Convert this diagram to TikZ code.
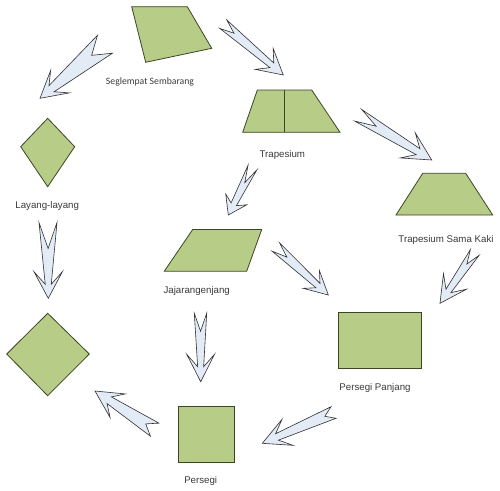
\documentclass[tikz,border=0pt]{standalone}
\usepackage{fontspec}
\setmainfont{Liberation Sans}
\newfontfamily\calib{Carlito}
\usetikzlibrary{calc}
\definecolor{shapefill}{HTML}{B7CC86}
\definecolor{shapeline}{HTML}{3A4626}
\definecolor{arrowfill}{HTML}{E3EBF7}
\definecolor{arrowline}{HTML}{303030}
\definecolor{labeltext}{HTML}{3A3A3A}
% #1 tail, #2 tip, #3 tail half width, #4 notch depth,
% #5 neck half width, #6 neck distance from tip, #7 barb half width, #8 barb distance from tip
\newcommand\notcharrow[8]{%
 \draw[notchedarrow] ($(#1)!#3!90:(#2)$) -- ($(#1)!#4!(#2)$) -- ($(#1)!#3!-90:(#2)$)
 -- ($(#2)!#6!(#1)!#5!90:(#1)$) -- ($(#2)!#8!(#1)!#7!90:(#1)$) -- (#2)
 -- ($(#2)!#8!(#1)!#7!-90:(#1)$) -- ($(#2)!#6!(#1)!#5!-90:(#1)$) -- cycle;}
\begin{document}
\begin{tikzpicture}[x=1pt,y=-1pt,
  figshape/.style={draw=shapeline,fill=shapefill,line width=0.8pt,line join=miter},
  notchedarrow/.style={draw=arrowline,fill=arrowfill,line width=0.6pt,line join=miter},
  lbl/.style={text=labeltext,font=\fontsize{9.7}{11}\selectfont,inner sep=0pt,anchor=base}]
\fill[white] (0,0) rectangle (500,490);
\useasboundingbox (0,0) rectangle (500,490);

% shapes
\draw[figshape] (131.7,6.7) -- (187.3,6.7) -- (211.7,48.3) -- (145.7,62.3) -- cycle;
\draw[figshape] (257.3,90) -- (311.7,90) -- (340,132.3) -- (242.7,132.3) -- cycle;
\draw[figshape] (284.3,90) -- (284.3,132.3);
\draw[figshape] (422.7,173.3) -- (465.7,173.3) -- (492.7,215) -- (396,215) -- cycle;
\draw[figshape] (47.7,118.3) -- (74.7,146.7) -- (47.7,186.7) -- (20.7,146.7) -- cycle;
\draw[figshape] (192.7,229.5) -- (261.7,229.5) -- (246.7,271.2) -- (164.3,271.2) -- cycle;
\draw[figshape] (338.3,312.7) rectangle (421.7,368.3);
\draw[figshape] (178.3,406.7) rectangle (234,462.7);
\draw[figshape] (47.7,313.3) -- (89.3,354) -- (47.7,395.7) -- (6.7,354) -- cycle;

% labels
\node[lbl] (lseg) at (150,84.5) {\calib Seglempat Sembarang};
\node[lbl] (ltrap) at (282.3,157) {Trapesium};
\node[lbl] (ltsk) at (446,242) {Trapesium Sama Kaki};
\node[lbl] (llay) at (47.2,208) {Layang-layang};
\node[lbl] (ljaj) at (196.7,293) {Jajarangenjang};
\node[lbl] (lpp) at (375,390.3) {Persegi Panjang};
\node[lbl] (lper) at (200.7,483) {Persegi};

% arrow end points
\coordinate (a1t) at (105,44.2);   \coordinate (a1h) at (40,98.3);
\coordinate (a2t) at (223.3,24.2); \coordinate (a2h) at (283.3,75);
\coordinate (a3t) at (358.2,115.3);\coordinate (a3h) at (431.7,160);
\coordinate (a4t) at (252.5,167.5);\coordinate (a4h) at (228.3,215);
\coordinate (a5t) at (275.8,247);  \coordinate (a5h) at (328.3,295);
\coordinate (a6t) at (474.7,252.5);\coordinate (a6h) at (440,303.3);
\coordinate (a7t) at (200.5,313.3);\coordinate (a7h) at (200.7,381.7);
\coordinate (a8t) at (333.5,412.5);\coordinate (a8h) at (262.3,443.3);
\coordinate (a9t) at (154.7,429.7);\coordinate (a9h) at (95,391);
\coordinate (a10t) at (48,222.5);  \coordinate (a10h) at (48.3,298.3);

\notcharrow{a1t}{a1h}{11.7pt}{17.4pt}{4pt}{15pt}{14.6pt}{26pt}
\notcharrow{a2t}{a2h}{5.5pt}{14pt}{3pt}{15pt}{13.8pt}{25pt}
\notcharrow{a3t}{a3h}{6.8pt}{21pt}{3.5pt}{16pt}{14.6pt}{28pt}
\notcharrow{a4t}{a4h}{5pt}{17pt}{3pt}{12pt}{11.8pt}{17.5pt}
\notcharrow{a5t}{a5h}{5.6pt}{15pt}{3pt}{14pt}{12pt}{23pt}
\notcharrow{a6t}{a6h}{5.2pt}{14pt}{3pt}{15pt}{13.9pt}{26.5pt}
\notcharrow{a7t}{a7h}{6.2pt}{18pt}{3pt}{15pt}{13.9pt}{27.4pt}
\notcharrow{a8t}{a8h}{6.3pt}{9.5pt}{3.5pt}{16pt}{14.1pt}{27.5pt}
\notcharrow{a9t}{a9h}{7.8pt}{10.7pt}{4pt}{17pt}{14pt}{27pt}
\notcharrow{a10t}{a10h}{9pt}{26pt}{3pt}{14pt}{14.2pt}{26.6pt}
\end{tikzpicture}
\end{document}
